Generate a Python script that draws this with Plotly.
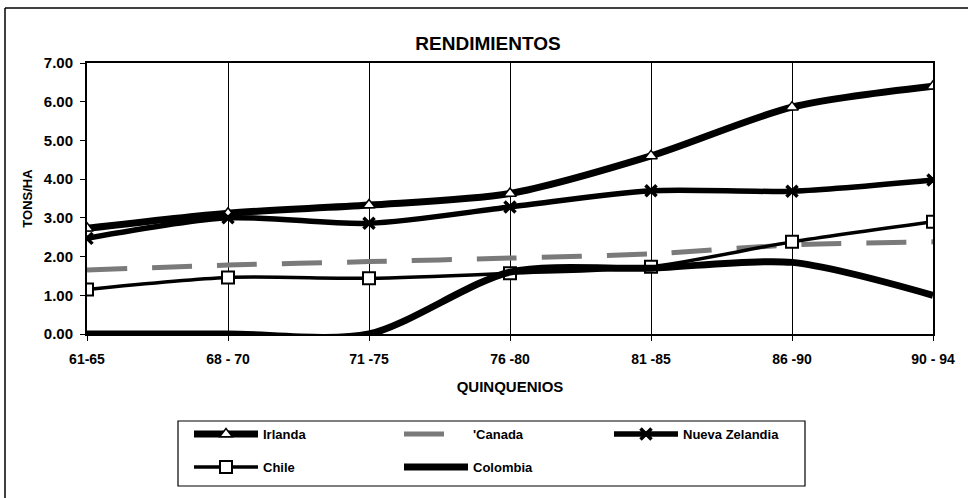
import plotly.graph_objects as go

categories = ["61-65", "68 - 70", "71 -75", "76 -80", "81 -85", "86 -90", "90 - 94"]
irlanda = [2.73, 3.12, 3.33, 3.63, 4.60, 5.86, 6.40]
canada = [1.65, 1.78, 1.87, 1.96, 2.07, 2.30, 2.38]
nueva_zelandia = [2.47, 3.00, 2.86, 3.28, 3.70, 3.69, 3.98]
chile = [1.15, 1.46, 1.44, 1.57, 1.74, 2.38, 2.90]
colombia = [0.0, 0.0, 0.0, 1.60, 1.70, 1.85, 1.00]
y_ticks = [0, 1, 2, 3, 4, 5, 6, 7]

FONT = "Liberation Sans, Arial, sans-serif"
W, H = 968, 498
PX0, PX1, PY0, PY1 = 87, 933, 63, 334   # plot area in page pixels
pw, ph = PX1 - PX0, PY1 - PY0


def px(xp):
    return (xp - PX0) / pw


def py(yp):
    return (PY1 - yp) / ph


x = list(range(len(categories)))

fig = go.Figure()
fig.add_trace(go.Scatter(
    x=x, y=irlanda, name="Irlanda", mode="lines+markers", legend="legend",
    line=dict(color="black", width=7, shape="spline", smoothing=0.8),
    marker=dict(symbol="triangle-up", size=11, color="white", line=dict(color="black", width=1.5)),
))
fig.add_trace(go.Scatter(
    x=x, y=canada, name="'Canada", mode="lines", legend="legend",
    line=dict(color="#7a7a7a", width=5, dash="40px,25px", shape="spline", smoothing=0.8),
))
fig.add_trace(go.Scatter(
    x=x, y=nueva_zelandia, name="Nueva Zelandia", mode="lines+markers", legend="legend",
    line=dict(color="black", width=5.5, shape="spline", smoothing=0.8),
    marker=dict(symbol="x-thin", size=11, color="black", line=dict(color="black", width=3.5)),
))
fig.add_trace(go.Scatter(
    x=x, y=chile, name="Chile", mode="lines+markers", legend="legend2",
    line=dict(color="black", width=3.5, shape="spline", smoothing=0.8),
    marker=dict(symbol="square", size=12, color="white", line=dict(color="black", width=2)),
))
fig.add_trace(go.Scatter(
    x=x, y=colombia, name="Colombia", mode="lines", legend="legend2",
    line=dict(color="black", width=7, shape="spline", smoothing=0.8),
))

# outer chart frame (left and top edges)
fig.add_shape(type="line", xref="paper", yref="paper",
              x0=px(5), x1=px(5), y0=py(498), y1=py(8),
              line=dict(color="black", width=1.5))
fig.add_shape(type="line", xref="paper", yref="paper",
              x0=px(5), x1=px(968), y0=py(8), y1=py(8),
              line=dict(color="black", width=1.5))
# legend box
fig.add_shape(type="rect", xref="paper", yref="paper",
              x0=px(178), x1=px(805), y0=py(486), y1=py(421),
              line=dict(color="black", width=1.2), fillcolor="rgba(0,0,0,0)")

legend_common = dict(
    orientation="h", xanchor="left", yanchor="top",
    borderwidth=0, bgcolor="rgba(0,0,0,0)",
    font=dict(size=13, family=FONT, weight="bold", color="black"),
    entrywidth=131, entrywidthmode="pixels",
    itemwidth=64, tracegroupgap=0,
)

fig.update_layout(
    width=W, height=H,
    margin=dict(l=PX0, r=W - PX1, t=PY0, b=H - PY1),
    paper_bgcolor="white", plot_bgcolor="white",
    font=dict(family=FONT, color="black", size=13),
    title=dict(text="<b>RENDIMIENTOS</b>", x=488 / W, xanchor="center",
               y=1 - 43 / H, yanchor="middle", font=dict(size=19, family=FONT)),
    showlegend=True,
    legend=dict(x=px(189), y=py(419), **legend_common),
    legend2=dict(x=px(189), y=py(452), **legend_common),
    xaxis=dict(
        range=[0, len(categories) - 1],
        tickmode="array", tickvals=x, ticktext=categories,
        showgrid=True, gridcolor="black", gridwidth=1,
        showline=True, linecolor="black", linewidth=2, mirror=True,
        ticks="outside", ticklen=5, tickcolor="black", ticklabelstandoff=6,
        tickfont=dict(size=14, weight="bold"),
        title=dict(text="<b>QUINQUENIOS</b>", font=dict(size=15), standoff=16),
        zeroline=False,
    ),
    yaxis=dict(
        range=[0, 7], tickmode="array", tickvals=y_ticks,
        tickformat=".2f", showgrid=False,
        showline=True, linecolor="black", linewidth=2, mirror=True,
        ticks="outside", ticklen=5, tickcolor="black", ticklabelstandoff=4,
        tickfont=dict(size=15, weight="bold"),
        title=dict(text="<b>TONS/HA</b>", font=dict(size=13), standoff=8),
        zeroline=False,
    ),
)

fig.write_html("out.html", config={"displayModeBar": False},
               post_script="document.body.style.margin='0';")
